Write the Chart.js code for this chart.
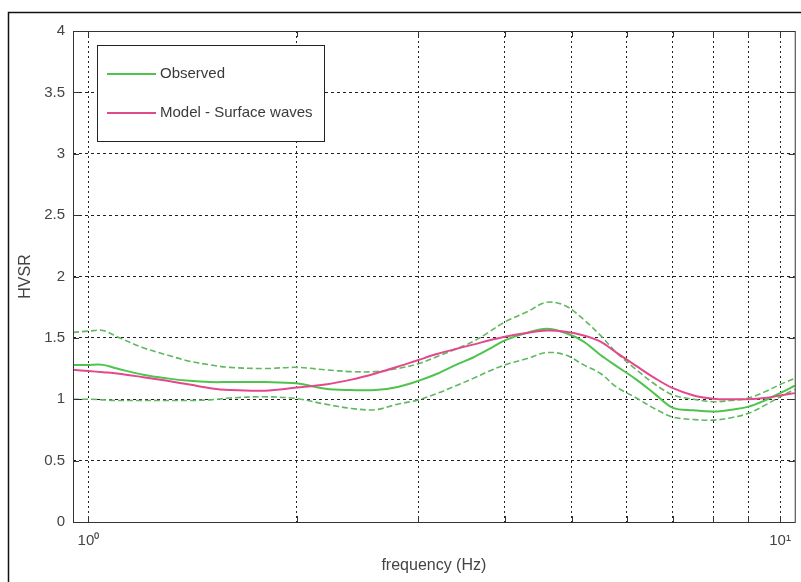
<!DOCTYPE html>
<html>
<head>
<meta charset="utf-8">
<script src="https://cdn.jsdelivr.net/npm/chart.js@4/dist/chart.umd.min.js"></script>
<style>
  html, body { margin: 0; padding: 0; background: #fff; }
  #wrap { width: 801px; height: 582px; }
</style>
</head>
<body>
<div id="wrap"><canvas id="graph" width="801" height="582"></canvas></div>
<script>
var frequences = [0.95, 1.0, 1.05, 1.1, 1.2, 1.3, 1.4, 1.5, 1.6, 1.8, 2.0, 2.2, 2.4, 2.6, 2.8, 3.0, 3.2, 3.4, 3.6, 3.8,
                  4.0, 4.3, 4.6, 4.9, 5.2, 5.5, 5.8, 6.2, 6.6, 7.0, 7.5, 8.0, 8.5, 9.0, 9.5, 10.0, 10.5];

var observe = [1.28, 1.28, 1.28, 1.25, 1.20, 1.17, 1.15, 1.14, 1.14, 1.14, 1.13, 1.085, 1.075, 1.075, 1.10, 1.15, 1.21, 1.28, 1.34, 1.41,
               1.48, 1.54, 1.575, 1.54, 1.47, 1.36, 1.27, 1.16, 1.04, 0.93, 0.91, 0.90, 0.915, 0.94, 0.99, 1.05, 1.11];

var observeHaut = [1.545, 1.555, 1.56, 1.51, 1.42, 1.36, 1.31, 1.28, 1.26, 1.25, 1.26, 1.24, 1.225, 1.225, 1.25, 1.29, 1.35, 1.41, 1.47, 1.55,
                   1.63, 1.71, 1.79, 1.76, 1.65, 1.52, 1.38, 1.24, 1.12, 1.035, 1.0, 0.98, 0.99, 1.01, 1.06, 1.12, 1.17];

var observeBas = [1.0, 1.0, 0.995, 0.99, 0.99, 0.99, 0.99, 0.995, 1.01, 1.02, 1.005, 0.96, 0.925, 0.915, 0.96, 0.995, 1.05, 1.11, 1.17, 1.23,
                  1.28, 1.33, 1.38, 1.36, 1.28, 1.21, 1.10, 1.01, 0.92, 0.855, 0.835, 0.83, 0.85, 0.885, 0.95, 1.02, 1.08];

var modele = [1.24, 1.23, 1.22, 1.21, 1.18, 1.15, 1.12, 1.09, 1.075, 1.07, 1.095, 1.12, 1.16, 1.21, 1.265, 1.32, 1.37, 1.41, 1.445, 1.48,
              1.51, 1.54, 1.56, 1.55, 1.52, 1.47, 1.38, 1.27, 1.17, 1.09, 1.03, 1.005, 1.0, 1.0, 1.01, 1.03, 1.05];

var ticksX = [1, 2, 3, 4, 5, 6, 7, 8, 9, 10];
var etiquettesX = {1: '10\u2070', 10: '10\u00b9'};

function versPoints(xs, ys) {
    var pts = [];
    for (var i = 0; i < xs.length; i++) {
        pts.push({x: xs[i], y: ys[i]});
    }
    return pts;
}

var vert = 'rgb(78, 196, 78)';
var vertTirets = 'rgb(96, 184, 96)';
var rose = 'rgb(228, 72, 140)';
var police = '"Liberation Sans", Arial, sans-serif';

// cadre exterieur, boite des axes, petits traits de graduation, legende
var cadres = {
    id: 'cadres',
    beforeDraw: function(chart) {
        var ctx = chart.ctx;
        ctx.save();
        ctx.fillStyle = '#fff';
        ctx.fillRect(0, 0, chart.width, chart.height);
        ctx.strokeStyle = '#111';
        ctx.lineWidth = 1.5;
        ctx.strokeRect(8.5, 12.5, 900, 700);
        ctx.restore();
    },
    afterDatasetsDraw: function(chart) {
        var ctx = chart.ctx;
        var a = chart.chartArea;
        var sx = chart.scales.x, sy = chart.scales.y;
        ctx.save();
        ctx.strokeStyle = '#333';
        ctx.lineWidth = 1;
        ctx.setLineDash([]);
        ctx.strokeRect(a.left + 0.5, a.top + 0.5, a.right - a.left, a.bottom - a.top);
        ctx.beginPath();
        ticksX.forEach(function(v) {
            var px = Math.round(sx.getPixelForValue(v)) + 0.5;
            ctx.moveTo(px, a.bottom); ctx.lineTo(px, a.bottom - 6);
            ctx.moveTo(px, a.top); ctx.lineTo(px, a.top + 6);
        });
        for (var v = 0; v <= 4; v += 0.5) {
            var py = Math.round(sy.getPixelForValue(v)) + 0.5;
            ctx.moveTo(a.left, py); ctx.lineTo(a.left + 6, py);
            ctx.moveTo(a.right, py); ctx.lineTo(a.right - 6, py);
        }
        ctx.stroke();

        // legende
        var bx = 97.5, by = 45.5, bw = 227, bh = 96;
        ctx.fillStyle = '#fff';
        ctx.fillRect(bx, by, bw, bh);
        ctx.strokeStyle = '#222';
        ctx.strokeRect(bx, by, bw, bh);
        var lignesY = [74, 113];
        for (var i = 0; i < 2; i++) {
            var ds = chart.data.datasets[i];
            ctx.strokeStyle = ds.borderColor;
            ctx.lineWidth = 2;
            ctx.beginPath();
            ctx.moveTo(107, lignesY[i]);
            ctx.lineTo(156, lignesY[i]);
            ctx.stroke();
            ctx.fillStyle = '#3a3a3a';
            ctx.font = '15px ' + police;
            ctx.textAlign = 'left';
            ctx.textBaseline = 'middle';
            ctx.fillText(ds.label, 160, lignesY[i]);
        }
        ctx.restore();
    }
};

var ctx = document.getElementById('graph').getContext('2d');
var graphique = new Chart(ctx, {
    type: 'line',
    data: {
        datasets: [{
            label: 'Observed',
            data: versPoints(frequences, observe),
            borderColor: vert,
            borderWidth: 2,
            order: 1
        },
        {
            label: 'Model - Surface waves',
            data: versPoints(frequences, modele),
            borderColor: rose,
            borderWidth: 2,
            order: 0
        },
        {
            label: 'upper',
            data: versPoints(frequences, observeHaut),
            borderColor: vertTirets,
            borderWidth: 1.6,
            borderDash: [6, 3],
            order: 2
        },
        {
            label: 'lower',
            data: versPoints(frequences, observeBas),
            borderColor: vertTirets,
            borderWidth: 1.6,
            borderDash: [6, 3],
            order: 2
        }]
    },
    options: {
        responsive: false,
        animation: false,
        clip: false,
        layout: { padding: { top: 31, right: 4, left: 0, bottom: 0 } },
        elements: {
            point: { radius: 0 },
            line: { tension: 0.35, fill: false }
        },
        plugins: {
            legend: { display: false },
            tooltip: { enabled: false }
        },
        scales: {
            x: {
                type: 'logarithmic',
                min: 0.95,
                max: 10.5,
                afterBuildTicks: function(scale) {
                    scale.ticks = ticksX.map(function(v) { return {value: v}; });
                },
                afterFit: function(scale) { scale.height = 60; },
                grid: { color: '#222', lineWidth: 1, drawTicks: false },
                border: { display: false, dash: [2, 3] },
                ticks: {
                    autoSkip: false,
                    maxRotation: 0,
                    padding: 10,
                    color: '#444',
                    font: { size: 15, family: police },
                    callback: function(v) { return etiquettesX[v] || ''; }
                },
                title: {
                    display: true,
                    text: 'frequency (Hz)',
                    color: '#444',
                    font: { size: 16, family: police },
                    padding: { top: 0, bottom: 7 }
                }
            },
            y: {
                min: 0,
                max: 4,
                afterFit: function(scale) { scale.width = 73; },
                grid: { color: '#222', lineWidth: 1, drawTicks: false },
                border: { display: false, dash: [3, 3] },
                ticks: {
                    stepSize: 0.5,
                    padding: 8,
                    color: '#444',
                    font: { size: 15, family: police },
                    callback: function(v) { return String(v); }
                },
                title: {
                    display: true,
                    text: 'HVSR',
                    color: '#444',
                    font: { size: 16, family: police },
                    padding: { top: 16, bottom: 0 }
                }
            }
        }
    },
    plugins: [cadres]
});
</script>
</body>
</html>
